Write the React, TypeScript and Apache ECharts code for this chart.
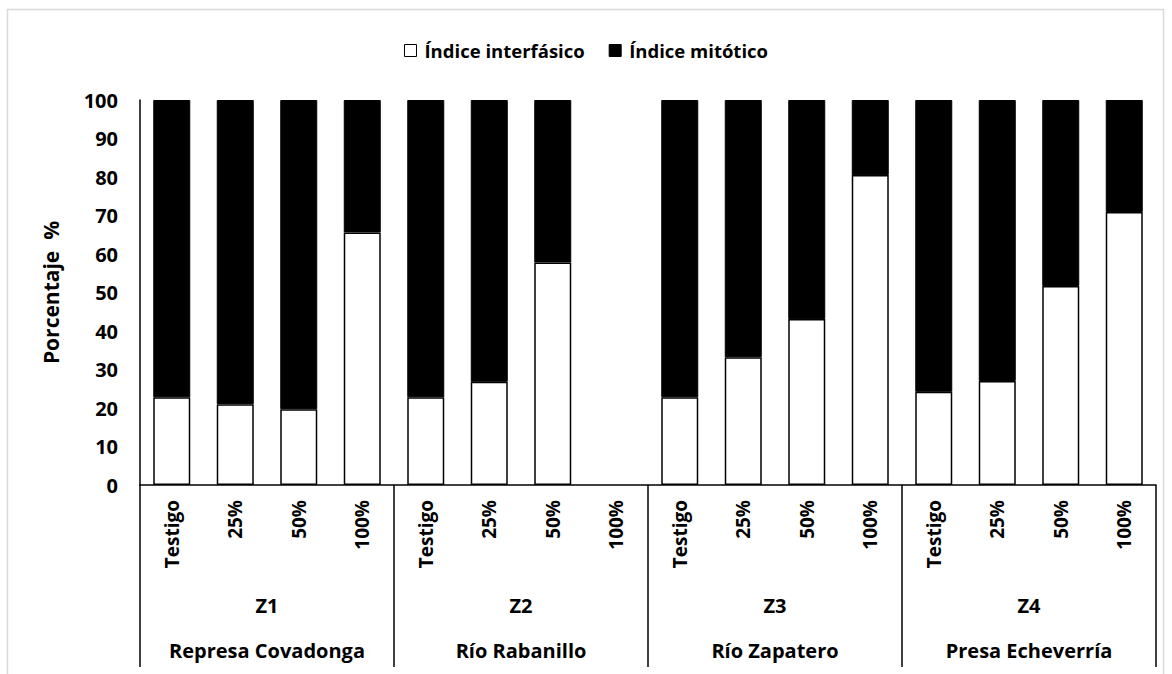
import React, { useEffect, useRef } from "react";
import * as echarts from "echarts";

const treatments = [
  "Testigo", "25%", "50%", "100%",
  "Testigo", "25%", "50%", "100%",
  "Testigo", "25%", "50%", "100%",
  "Testigo", "25%", "50%", "100%",
];
const zones = ["Z1", "Z2", "Z3", "Z4"];
const sites = ["Represa Covadonga", "Río Rabanillo", "Río Zapatero", "Presa Echeverría"];

const interfasico: (number | null)[] = [
  22.8, 21.0, 19.7, 65.6,
  22.8, 26.8, 57.8, null,
  22.8, 33.2, 43.1, 80.5,
  24.2, 27.0, 51.7, 70.9,
];
const mitotico: (number | null)[] = interfasico.map((v) => (v == null ? null : +(100 - v).toFixed(1)));

const FONT = "Open Sans";

export default function App() {
  const ref = useRef<HTMLDivElement>(null);
  useEffect(() => {
    if (!ref.current) return;
    const chart = echarts.init(ref.current, null, { renderer: "svg" });
    const txt = { fontFamily: FONT, fontWeight: "bold" as const, fontSize: 20, color: "#000" };
    chart.setOption({
      animation: false,
      backgroundColor: "#fff",
      graphic: [
        {
          type: "rect",
          shape: { x: 7.5, y: 9.5, width: 1156, height: 700 },
          style: { fill: "none", stroke: "#d9d9d9", lineWidth: 1.5 },
          silent: true,
        },
      ],
      legend: {
        top: 36,
        left: "center",
        itemWidth: 12,
        itemHeight: 12,
        itemGap: 24,
        textStyle: { ...txt, fontSize: 18.5, padding: [0, 0, 0, 3] },
        data: [
          { name: "Índice interfásico", icon: "rect", itemStyle: { color: "#fff", borderColor: "#000", borderWidth: 1 } },
          { name: "Índice mitótico", icon: "rect", itemStyle: { color: "#000", borderColor: "#000", borderWidth: 1 } },
        ],
      },
      grid: { left: 140, right: 16, top: 100, bottom: 189, containLabel: false },
      xAxis: [
        {
          type: "category",
          data: treatments,
          position: "bottom",
          axisLine: { show: true, lineStyle: { color: "#000", width: 1.5 } },
          axisTick: { show: false },
          axisLabel: { ...txt, fontSize: 19, rotate: 90, margin: 15, interval: 0 },
        },
        {
          type: "category",
          data: zones,
          position: "bottom",
          axisLine: { show: false },
          axisTick: { show: true, length: 182, inside: false, lineStyle: { color: "#000", width: 1.5 }, interval: 0 },
          axisLabel: { ...txt, margin: 110, interval: 0 },
        },
        {
          type: "category",
          data: sites,
          position: "bottom",
          axisLine: { show: false },
          axisTick: { show: false },
          axisLabel: { ...txt, margin: 155, interval: 0 },
        },
      ],
      yAxis: {
        type: "value",
        min: 0,
        max: 100,
        interval: 10,
        name: "Porcentaje  %",
        nameLocation: "middle",
        nameRotate: 90,
        nameGap: 79,
        nameTextStyle: { ...txt, fontSize: 21 },
        axisLine: { show: true, lineStyle: { color: "#000", width: 1.5 } },
        axisTick: { show: false },
        splitLine: { show: false },
        axisLabel: { ...txt, margin: 22 },
      },
      series: [
        {
          name: "Índice interfásico",
          type: "bar",
          stack: "total",
          xAxisIndex: 0,
          barWidth: 37,
          data: interfasico,
          itemStyle: { color: "#fff", borderColor: "#000", borderWidth: 1.5 },
        },
        {
          name: "Índice mitótico",
          type: "bar",
          stack: "total",
          xAxisIndex: 0,
          barWidth: 37,
          data: mitotico,
          itemStyle: { color: "#000", borderColor: "#000", borderWidth: 1 },
        },
      ],
    });
    return () => chart.dispose();
  }, []);
  return (
    <div
      ref={ref}
      style={{ position: "fixed", left: 0, top: 0, width: 1172, height: 674 }}
    />
  );
}
